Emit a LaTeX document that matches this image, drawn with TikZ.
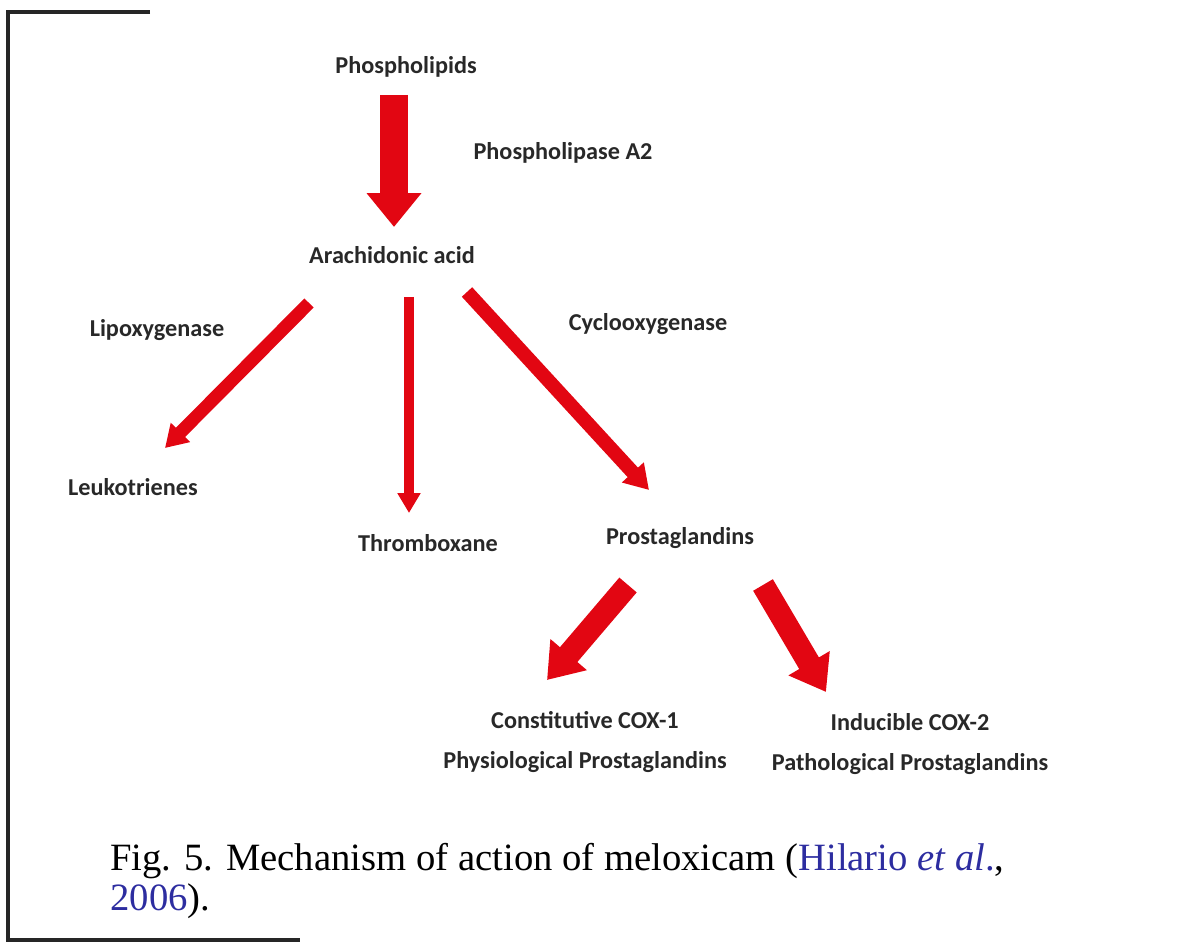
\documentclass[tikz,border=0pt]{standalone}
\usepackage{fontspec}
\setmainfont{Liberation Serif}
\newfontfamily\labelfont{Carlito}
\usepackage{tikz}
\usetikzlibrary{arrows.meta,calc}
\definecolor{arrowred}{RGB}{226,6,18}
\definecolor{labelgray}{RGB}{40,40,40}
\definecolor{citeblue}{RGB}{45,45,160}
\tikzset{
%Define standard arrow tip
>=Triangle,
%Define style for labels, arrows and the frame
label text/.style={font=\labelfont\bfseries\fontsize{13.8}{22.5}\selectfont, text=labelgray, inner sep=2pt},
red flow/.style n args={3}{draw=arrowred, line width=#1, -{Triangle[length=#2,width=#3]}},
frame line/.style={line width=1.8pt, black!85}, }

\begin{document}
\begin{tikzpicture}[x=0.02cm,y=-0.02cm]
\useasboundingbox (0,0) rectangle (1203,945);

\draw[frame line] (150,12) -- (8,12) -- (8,940) -- (300,940);

% the labels
\node[label text] (lipids) at (406,67) {Phospholipids};
\node[label text] (pla) at (563,153) {Phospholipase A2};
\node[label text] (acid) at (392,255) {Arachidonic acid};
\node[label text] (lox) at (157,330) {Lipoxygenase};
\node[label text] (cox) at (648,324) {Cyclooxygenase};
\node[label text] (leuko) at (133,487) {Leukotrienes};
\node[label text] (thromb) at (428,543) {Thromboxane};
\node[label text] (prost) at (680,538) {Prostaglandins};
\node[label text, align=center] (cox1) at (585,742) {Constitutive COX-1\\Physiological Prostaglandins};
\node[label text, align=center] (cox2) at (910,744) {Inducible COX-2\\Pathological Prostaglandins};

% ends of the arrows
\path coordinate (main1) at (394,95) coordinate (main2) at (394,227)
coordinate (lox1) at (309,303) coordinate (lox2) at (165,448)
coordinate (thr1) at (409,297) coordinate (thr2) at (409,513)
coordinate (cyc1) at (467,292) coordinate (cyc2) at (649,490)
coordinate (c11) at (628,585) coordinate (c12) at (547,680)
coordinate (c21) at (763,585) coordinate (c22) at (826,692);

\draw[red flow={15.9pt}{19.3pt}{30pt}] (main1) -- (main2);
\draw[red flow={7.4pt}{12.5pt}{14.7pt}] (lox1) -- (lox2);
\draw[red flow={6.2pt}{11.3pt}{12.5pt}] (thr1) -- (thr2);
\draw[red flow={8pt}{13.6pt}{16pt}] (cyc1) -- (cyc2);
\draw[red flow={13pt}{19pt}{26pt}] (c11) -- (c12);
\draw[red flow={13pt}{19pt}{26pt}] (c21) -- (c22);

% the caption
\node[anchor=north west, align=left, inner sep=0pt, font=\fontsize{22}{22.5}\selectfont]
(caption) at (110,843) {Fig. 5. Mechanism of action of meloxicam (\textcolor{citeblue}{Hilario \textit{et al}.}, \\
\textcolor{citeblue}{2006}).};

\end{tikzpicture}
\end{document}
